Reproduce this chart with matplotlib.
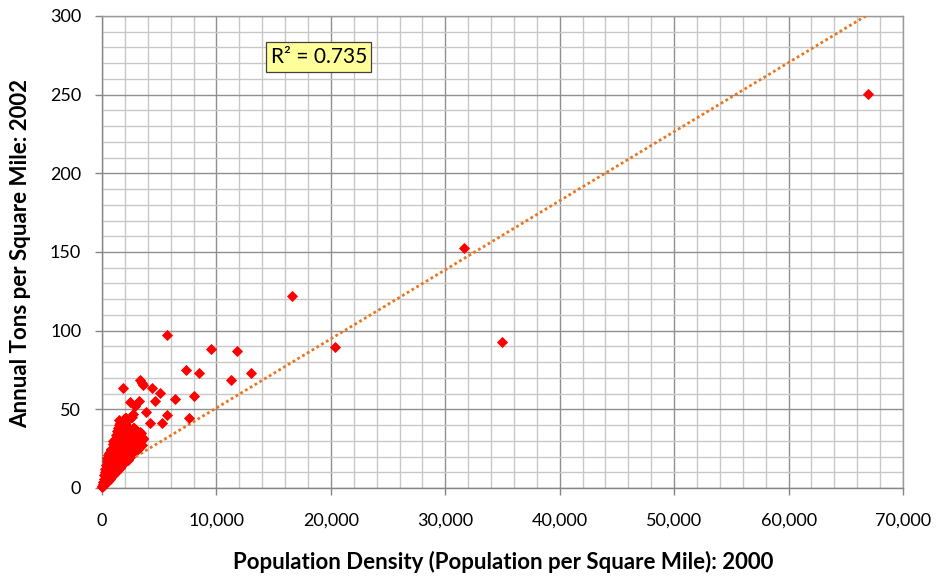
import numpy as np
import matplotlib
matplotlib.use("Agg")
import matplotlib.pyplot as plt
from matplotlib.ticker import MultipleLocator, FuncFormatter

# ---- data ----
outlier_x = [66960, 31640, 34960, 16610, 20370, 11800, 9530, 5660, 13040, 7340,
             8460, 11280, 8060, 7590, 6340, 5700, 5240, 4200, 3880, 4630,
             5080, 4350, 3320, 3460, 3610, 1810, 2450, 2880, 3260, 2130,
             2590, 2010, 1510, 1570, 2160, 2740, 3320, 3610, 3030, 3460, 3150, 2750]
outlier_y = [250.5, 152.5, 92.8, 122, 89.5, 87, 88.3, 97, 73, 75.1,
             72.8, 68.7, 58.2, 44.6, 56.8, 46.7, 41.3, 41.1, 48.4, 55,
             60.2, 63.5, 68.7, 66.5, 65.3, 63.6, 54.9, 52.3, 55.3, 44.7,
             45.3, 44.3, 39.8, 41, 39, 37.9, 35.8, 31.6, 31.6, 27.3, 25, 47]

cluster_x = [40, 40, 80, 120, 120, 160, 200, 200, 250, 250, 300, 300, 350, 350,
             400, 400, 400, 450, 450, 450, 500, 500, 500, 560, 560, 600, 600, 600,
             650, 650, 650, 700, 700, 700, 760, 760, 760, 820, 820, 820, 820,
             880, 880, 940, 940, 940, 940, 1000, 1000, 1000, 1060, 1060, 1060,
             1120, 1120, 1120, 1180, 1180, 1180, 1180, 1240, 1240, 1240,
             1300, 1300, 1300, 1300, 1360, 1360, 1360, 1420, 1420, 1420, 1420,
             1480, 1480, 1480, 1540, 1540, 1540, 1540, 1600, 1600,
             1660, 1660, 1660, 1660, 1720, 1720, 1720, 1780, 1780, 1780,
             1840, 1840, 1840, 1900, 1900, 1900, 1960, 1960, 1960,
             2020, 2020, 2020, 2100, 2100, 2100, 2180, 2180, 2180,
             2260, 2260, 2260, 2260, 2340, 2340, 2340, 2420, 2420, 2420,
             2500, 2500, 2500, 2600, 2600, 2600, 2700, 2700, 2800, 2800, 2800,
             2900, 2900, 3000, 3000, 3100, 3100, 3100, 3250, 3250, 3400, 3400, 3550]
cluster_y = [0.5, 1.5, 2.5, 1, 4, 6, 2, 8, 4, 10, 3, 12, 6, 14.5,
             3.5, 9, 17, 5, 12, 19, 4.5, 15, 21, 8, 18, 5, 12, 22,
             9, 16, 20, 6, 13, 23, 10, 18, 24, 7, 15, 21, 25,
             12, 19, 8, 17, 24, 28, 11, 22, 30, 9, 14, 26,
             18, 24, 31, 10, 16, 29, 34, 13, 21, 27,
             11, 19, 32, 36, 15, 25, 30, 12, 22, 34, 38,
             17, 28, 43, 13, 20, 31, 40, 24, 35,
             14, 19, 28, 38, 22, 33, 42, 15, 26, 36,
             18, 30, 41, 16, 23, 34, 20, 28, 44,
             17, 26, 37, 19, 31, 40, 22, 29, 35,
             18, 25, 33, 43, 21, 30, 38, 20, 27, 34,
             23, 31, 45, 22, 28, 36, 24, 33, 25, 30, 38,
             26, 34, 27, 31, 25, 29, 36, 28, 33, 30, 35, 31]

# linear trendline as drawn in the reference (y = slope * x + intercept)
trend_slope = 0.00439
trend_intercept = 7.0

r2_label = "R² = 0.735"
x_title = "Population Density (Population per Square Mile): 2000"
y_title = "Annual Tons per Square Mile: 2002"

x = np.array(outlier_x + cluster_x, dtype=float)
y = np.array(outlier_y + cluster_y, dtype=float)

plt.rcParams['font.family'] = ['Lato', 'DejaVu Sans']

W, H = 937, 577
fig = plt.figure(figsize=(W / 100, H / 100), dpi=100)
ax = fig.add_axes([102 / W, 89 / H, 801 / W, 472 / H])

ax.set_xlim(0, 70000)
ax.set_ylim(0, 300)

ax.xaxis.set_major_locator(MultipleLocator(10000))
ax.xaxis.set_minor_locator(MultipleLocator(2000))
ax.yaxis.set_major_locator(MultipleLocator(50))
ax.yaxis.set_minor_locator(MultipleLocator(10))
ax.xaxis.set_major_formatter(FuncFormatter(lambda v, p: f"{int(v):,}"))

ax.grid(which='minor', color='#c8c8c8', linewidth=1.0)
ax.grid(which='major', color='#8f8f8f', linewidth=1.0)
ax.set_axisbelow(True)

for s in ax.spines.values():
    s.set_color('#9a9a9a')
    s.set_linewidth(1.0)
ax.spines['left'].set_color('#868686')
ax.spines['bottom'].set_color('#868686')

ax.tick_params(which='major', length=5, width=1, color='#868686', labelsize=13,
               labelcolor='#000000')
ax.tick_params(axis='y', which='major', pad=10)
ax.tick_params(axis='x', which='major', pad=13)
ax.tick_params(which='minor', length=0)

tx = np.array([x.min(), x.max()])
ax.plot(tx, trend_slope * tx + trend_intercept, color='#E8761F', linewidth=2.0,
        linestyle=(0, (1, 1.0)), zorder=3, clip_on=True)

ax.plot(x, y, linestyle='none', marker='D', markersize=5.2, color='#ff0000',
        markeredgecolor='#ff0000', markeredgewidth=0.6, zorder=4, clip_on=False)

ax.text(0.2705, 0.913, r2_label, transform=ax.transAxes, ha='center', va='center',
        fontsize=15, color='#000000', zorder=6,
        bbox=dict(boxstyle='square,pad=0.22', fc='#ffff99', ec='#404040', lw=0.9))

fig.text(503 / W, 1 - 562 / H, x_title, ha='center', va='center',
         fontsize=16, fontweight='bold')
fig.text(21 / W, 1 - 253 / H, y_title, ha='center', va='center',
         rotation=90, fontsize=16, fontweight='bold')

fig.savefig('out.png', dpi=100)
